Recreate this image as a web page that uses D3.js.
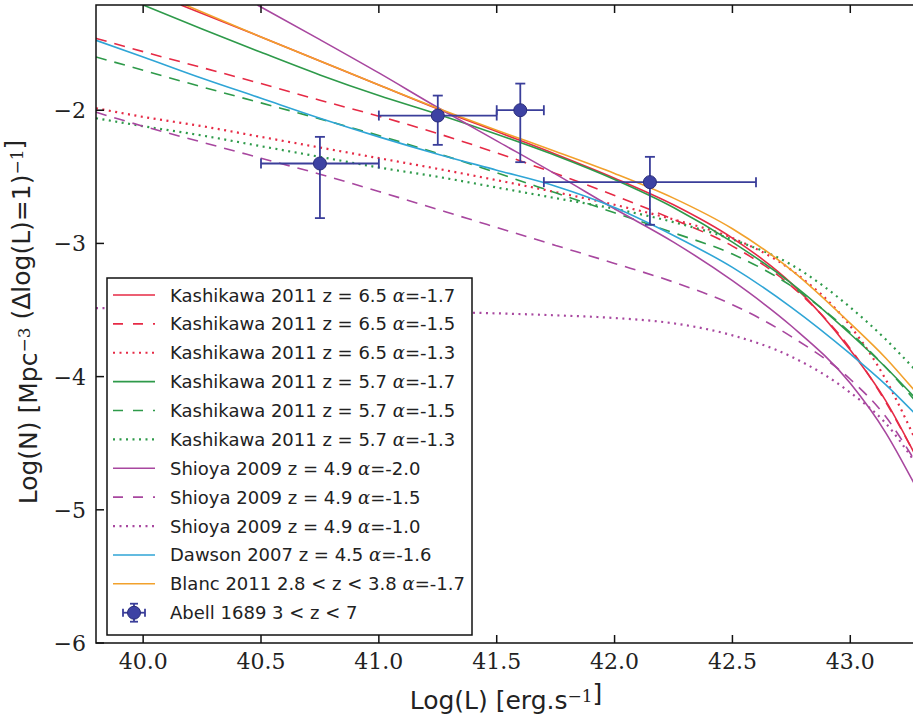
<!DOCTYPE html>
<html>
<head>
<meta charset="utf-8">
<script src="https://cdn.jsdelivr.net/npm/d3@7"></script>
<style>
body { margin: 0; background: #fff; }
svg { display: block; }
text { white-space: pre; }
</style>
</head>
<body>
<svg id="chart" width="913" height="722"></svg>
<script>
/* Lyman alpha luminosity functions vs Abell 1689 counts */

//Luminosity function curves: [log L, log N]
var kash65_a17 = [[40.16,-1.21],[40.5,-1.45],[40.75,-1.63],[41.0,-1.81],[41.25,-1.99],[41.5,-2.16],[41.75,-2.33],[42.0,-2.51],[42.25,-2.71],[42.5,-2.96],[42.75,-3.30],[43.0,-3.80],[43.15,-4.18],[43.27,-4.57]];
var kash65_a15 = [[39.8,-1.46],[40.0,-1.56],[40.25,-1.68],[40.5,-1.80],[40.75,-1.925],[41.0,-2.045],[41.25,-2.175],[41.5,-2.32],[41.75,-2.475],[42.0,-2.64],[42.25,-2.82],[42.5,-3.02],[42.75,-3.32],[43.0,-3.79],[43.15,-4.19],[43.27,-4.57]];
var kash65_a13 = [[39.8,-1.985],[40.0,-2.05],[40.25,-2.12],[40.5,-2.20],[40.75,-2.28],[41.0,-2.36],[41.25,-2.44],[41.5,-2.525],[41.75,-2.615],[42.0,-2.71],[42.25,-2.82],[42.5,-2.96],[42.75,-3.20],[43.0,-3.62],[43.15,-4.02],[43.27,-4.45]];
var kash57_a17 = [[40.0,-1.21],[40.25,-1.39],[40.5,-1.565],[40.75,-1.735],[41.0,-1.89],[41.25,-2.03],[41.5,-2.18],[41.75,-2.34],[42.0,-2.52],[42.25,-2.73],[42.5,-2.99],[42.75,-3.30],[43.0,-3.68],[43.15,-3.93],[43.27,-4.15]];
var kash57_a15 = [[39.8,-1.60],[40.0,-1.70],[40.25,-1.825],[40.5,-1.945],[40.75,-2.065],[41.0,-2.19],[41.25,-2.325],[41.5,-2.47],[41.75,-2.62],[42.0,-2.77],[42.25,-2.92],[42.5,-3.08],[42.75,-3.32],[43.0,-3.67],[43.15,-3.93],[43.27,-4.17]];
var kash57_a13 = [[39.8,-2.06],[40.0,-2.12],[40.25,-2.19],[40.5,-2.27],[40.75,-2.35],[41.0,-2.43],[41.25,-2.50],[41.5,-2.58],[41.75,-2.66],[42.0,-2.74],[42.25,-2.84],[42.5,-2.97],[42.75,-3.16],[43.0,-3.48],[43.15,-3.72],[43.27,-3.94]];
var shioya_a20 = [[40.485,-1.21],[40.75,-1.47],[41.0,-1.72],[41.25,-1.98],[41.5,-2.23],[41.75,-2.48],[42.0,-2.74],[42.25,-2.99],[42.5,-3.28],[42.75,-3.62],[43.0,-4.05],[43.15,-4.42],[43.27,-4.80]];
var shioya_a15 = [[39.8,-2.015],[40.0,-2.12],[40.25,-2.24],[40.5,-2.36],[40.75,-2.48],[41.0,-2.61],[41.25,-2.745],[41.5,-2.88],[41.75,-3.015],[42.0,-3.15],[42.25,-3.29],[42.5,-3.46],[42.75,-3.70],[43.0,-4.02],[43.15,-4.30],[43.27,-4.62]];
var shioya_a10 = [[39.8,-3.486],[40.25,-3.49],[40.75,-3.50],[41.25,-3.515],[41.5,-3.525],[41.75,-3.54],[42.0,-3.56],[42.25,-3.60],[42.5,-3.69],[42.75,-3.85],[43.0,-4.12],[43.15,-4.35],[43.27,-4.63]];
var dawson_a16 = [[39.8,-1.475],[40.0,-1.60],[40.25,-1.76],[40.5,-1.91],[40.75,-2.06],[41.0,-2.20],[41.25,-2.33],[41.5,-2.45],[41.75,-2.57],[42.0,-2.73],[42.25,-2.94],[42.5,-3.18],[42.75,-3.48],[43.0,-3.83],[43.15,-4.06],[43.27,-4.27]];
var blanc_a17 = [[40.18,-1.21],[40.5,-1.45],[40.75,-1.63],[41.0,-1.81],[41.25,-1.985],[41.5,-2.15],[41.75,-2.31],[42.0,-2.475],[42.25,-2.66],[42.5,-2.89],[42.75,-3.20],[43.0,-3.60],[43.15,-3.86],[43.27,-4.10]];

//Abell 1689 points with their error bars
var abellL = [40.75, 41.25, 41.6, 42.15];
var abellN = [-2.40, -2.04, -2.00, -2.54];
var abellLErr = [0.25, 0.25, 0.10, 0.45];
var abellNErrLow = [0.41, 0.22, 0.39, 0.32];
var abellNErrHigh = [0.20, 0.15, 0.20, 0.19];

//legend labels and ticks
var curveLabels = [
    "Kashikawa 2011 z = 6.5 α=-1.7",
    "Kashikawa 2011 z = 6.5 α=-1.5",
    "Kashikawa 2011 z = 6.5 α=-1.3",
    "Kashikawa 2011 z = 5.7 α=-1.7",
    "Kashikawa 2011 z = 5.7 α=-1.5",
    "Kashikawa 2011 z = 5.7 α=-1.3",
    "Shioya 2009 z = 4.9 α=-2.0",
    "Shioya 2009 z = 4.9 α=-1.5",
    "Shioya 2009 z = 4.9 α=-1.0",
    "Dawson 2007 z = 4.5 α=-1.6",
    "Blanc 2011 2.8 < z < 3.8 α=-1.7"
];
var pointsLabel = "Abell 1689 3 < z < 7";
var xTicks = [40.0, 40.5, 41.0, 41.5, 42.0, 42.5, 43.0];
var yTicks = [-6, -5, -4, -3, -2];

//styles for each curve (same order as the labels)
var red = "#e62a45", green = "#2e9a4a", purple = "#a8479f", cyan = "#2fa5d6", orange = "#f2a12c", navy = "#3a3e9a";
var dashed = "11,8", dotted = "2,4.5";
var curves = [
    {data: kash65_a17, color: red, dash: null},
    {data: kash65_a15, color: red, dash: dashed},
    {data: kash65_a13, color: red, dash: dotted},
    {data: kash57_a17, color: green, dash: null},
    {data: kash57_a15, color: green, dash: dashed},
    {data: kash57_a13, color: green, dash: dotted},
    {data: shioya_a20, color: purple, dash: null},
    {data: shioya_a15, color: purple, dash: dashed},
    {data: shioya_a10, color: purple, dash: dotted},
    {data: dawson_a16, color: cyan, dash: null},
    {data: blanc_a17, color: orange, dash: null}
];

function drawChart(){
    var svg = d3.select("#chart");

    //plot box: the right edge runs off the picture
    var pLeft = 96, pTop = 5, pBottom = 643, pRight = 921;

    var x = d3.scaleLinear().domain([39.8, 43.3]).range([pLeft, pRight]);
    var y = d3.scaleLinear().domain([-6, -1.21]).range([pBottom, pTop]);

    svg.append("clipPath").attr("id", "plotclip")
        .append("rect").attr("x", pLeft).attr("y", pTop)
        .attr("width", pRight - pLeft).attr("height", pBottom - pTop);

    var plot = svg.append("g").attr("clip-path", "url(#plotclip)");

    var line = d3.line()
        .x(function(d){ return x(d[0]); })
        .y(function(d){ return y(d[1]); })
        .curve(d3.curveMonotoneX);

    curves.forEach(function(c){
        plot.append("path")
            .attr("d", line(c.data))
            .attr("fill", "none")
            .attr("stroke", c.color)
            .attr("stroke-width", c.dash == dotted ? 2.2 : 1.6)
            .attr("stroke-dasharray", c.dash);
    });

    //error bars then markers
    var cap = 5;
    abellL.forEach(function(L, i){
        var px = x(L), py = y(abellN[i]);
        var x0 = x(L - abellLErr[i]), x1 = x(L + abellLErr[i]);
        var y0 = y(abellN[i] - abellNErrLow[i]), y1 = y(abellN[i] + abellNErrHigh[i]);
        var g = plot.append("g").attr("stroke", navy).attr("stroke-width", 1.8);
        g.append("line").attr("x1", x0).attr("x2", x1).attr("y1", py).attr("y2", py);
        g.append("line").attr("x1", px).attr("x2", px).attr("y1", y0).attr("y2", y1);
        g.append("line").attr("x1", x0).attr("x2", x0).attr("y1", py - cap).attr("y2", py + cap);
        g.append("line").attr("x1", x1).attr("x2", x1).attr("y1", py - cap).attr("y2", py + cap);
        g.append("line").attr("x1", px - cap).attr("x2", px + cap).attr("y1", y0).attr("y2", y0);
        g.append("line").attr("x1", px - cap).attr("x2", px + cap).attr("y1", y1).attr("y2", y1);
    });
    plot.selectAll("circle.pt").data(abellL).enter().append("circle")
        .attr("class", "pt")
        .attr("cx", function(d){ return x(d); })
        .attr("cy", function(d, i){ return y(abellN[i]); })
        .attr("r", 6.5)
        .attr("fill", "#3d42a3")
        .attr("stroke", "#2a2d7a")
        .attr("stroke-width", 1);

    //frame and inward ticks
    var frame = svg.append("g").attr("stroke", "#111").attr("stroke-width", 1.5).attr("fill", "none");
    frame.append("path").attr("d", "M" + pRight + "," + pTop + "H" + pLeft + "V" + pBottom + "H" + pRight);

    var tickLen = 8;
    xTicks.forEach(function(t){
        frame.append("line").attr("x1", x(t)).attr("x2", x(t)).attr("y1", pBottom).attr("y2", pBottom - tickLen);
        frame.append("line").attr("x1", x(t)).attr("x2", x(t)).attr("y1", pTop).attr("y2", pTop + tickLen);
    });
    yTicks.forEach(function(t){
        frame.append("line").attr("x1", pLeft).attr("x2", pLeft + tickLen).attr("y1", y(t)).attr("y2", y(t));
    });

    //tick labels in a serif face like the LaTeX original
    svg.selectAll("text.xt").data(xTicks).enter().append("text")
        .attr("class", "xt")
        .attr("x", function(d){ return x(d); })
        .attr("y", 669)
        .attr("text-anchor", "middle")
        .attr("font-family", "DejaVu Serif")
        .attr("font-size", 22)
        .attr("fill", "#222")
        .text(function(d){ return d.toFixed(1); });

    svg.selectAll("text.yt").data(yTicks).enter().append("text")
        .attr("class", "yt")
        .attr("x", 86)
        .attr("y", function(d){ return y(d); })
        .attr("dy", "0.36em")
        .attr("text-anchor", "end")
        .attr("font-family", "DejaVu Serif")
        .attr("font-size", 22)
        .attr("fill", "#222")
        .text(function(d){ return "\u2212" + Math.abs(d); });

    //axis titles with superscripts
    function sup(t, s){
        t.append("tspan").attr("dy", "-0.4em").attr("font-size", "68%").attr("font-family", "DejaVu Serif").text(s);
        t.append("tspan").attr("dy", "0.4em").text("");
    }
    var xt = svg.append("text")
        .attr("x", 506).attr("y", 709)
        .attr("text-anchor", "middle")
        .attr("font-family", "DejaVu Sans")
        .attr("font-size", 25)
        .attr("fill", "#222");
    xt.append("tspan").text("Log(L) [erg.s");
    sup(xt, "\u22121");
    xt.append("tspan").text("]");

    var yt = svg.append("text")
        .attr("transform", "translate(37,322) rotate(-90)")
        .attr("text-anchor", "middle")
        .attr("font-family", "DejaVu Sans")
        .attr("font-size", 25)
        .attr("fill", "#222");
    yt.append("tspan").text("Log(N) [Mpc");
    sup(yt, "\u22123");
    yt.append("tspan").text(" (\u0394log(L)=1)");
    sup(yt, "\u22121");
    yt.append("tspan").text("]");

    //legend box on top of the curves
    var leg = svg.append("g");
    leg.append("rect")
        .attr("x", 107).attr("y", 278).attr("width", 365).attr("height", 357)
        .attr("fill", "#fff").attr("stroke", "#111").attr("stroke-width", 1.5);

    var rowY = d3.scaleLinear().domain([0, 11]).range([295, 612.7]);

    function addLabel(sel, str){
        str.split(/([α<])/).forEach(function(p){
            if (!p) return;
            var ts = sel.append("tspan").text(p);
            if (p == "α" || p == "<") {
                ts.attr("font-family", "DejaVu Serif").attr("font-style", p == "α" ? "italic" : "normal");
            }
        });
    }

    curves.forEach(function(c, i){
        var ry = rowY(i);
        leg.append("line")
            .attr("x1", 113).attr("x2", 155).attr("y1", ry).attr("y2", ry)
            .attr("stroke", c.color)
            .attr("stroke-width", c.dash == dotted ? 2.2 : 1.6)
            .attr("stroke-dasharray", c.dash == dashed ? "10,10" : c.dash);
        var t = leg.append("text")
            .attr("x", 170).attr("y", ry + 6.5)
            .attr("font-family", "DejaVu Sans")
            .attr("font-size", 18)
            .attr("fill", "#222");
        addLabel(t, curveLabels[i]);
    });

    //errorbar handle for the data points
    var ly = rowY(11), lx = 134;
    var lg = leg.append("g").attr("stroke", navy).attr("stroke-width", 1.8);
    lg.append("line").attr("x1", lx - 11).attr("x2", lx + 11).attr("y1", ly).attr("y2", ly);
    lg.append("line").attr("x1", lx).attr("x2", lx).attr("y1", ly - 9).attr("y2", ly + 9);
    lg.append("line").attr("x1", lx - 11).attr("x2", lx - 11).attr("y1", ly - 4).attr("y2", ly + 4);
    lg.append("line").attr("x1", lx + 11).attr("x2", lx + 11).attr("y1", ly - 4).attr("y2", ly + 4);
    lg.append("line").attr("x1", lx - 4).attr("x2", lx + 4).attr("y1", ly - 9).attr("y2", ly - 9);
    lg.append("line").attr("x1", lx - 4).attr("x2", lx + 4).attr("y1", ly + 9).attr("y2", ly + 9);
    leg.append("circle").attr("cx", lx).attr("cy", ly).attr("r", 6.5)
        .attr("fill", "#3d42a3").attr("stroke", "#2a2d7a").attr("stroke-width", 1);
    var pt = leg.append("text")
        .attr("x", 170).attr("y", ly + 6.5)
        .attr("font-family", "DejaVu Sans")
        .attr("font-size", 18)
        .attr("fill", "#222");
    addLabel(pt, pointsLabel);
}

drawChart();
</script>
</body>
</html>
